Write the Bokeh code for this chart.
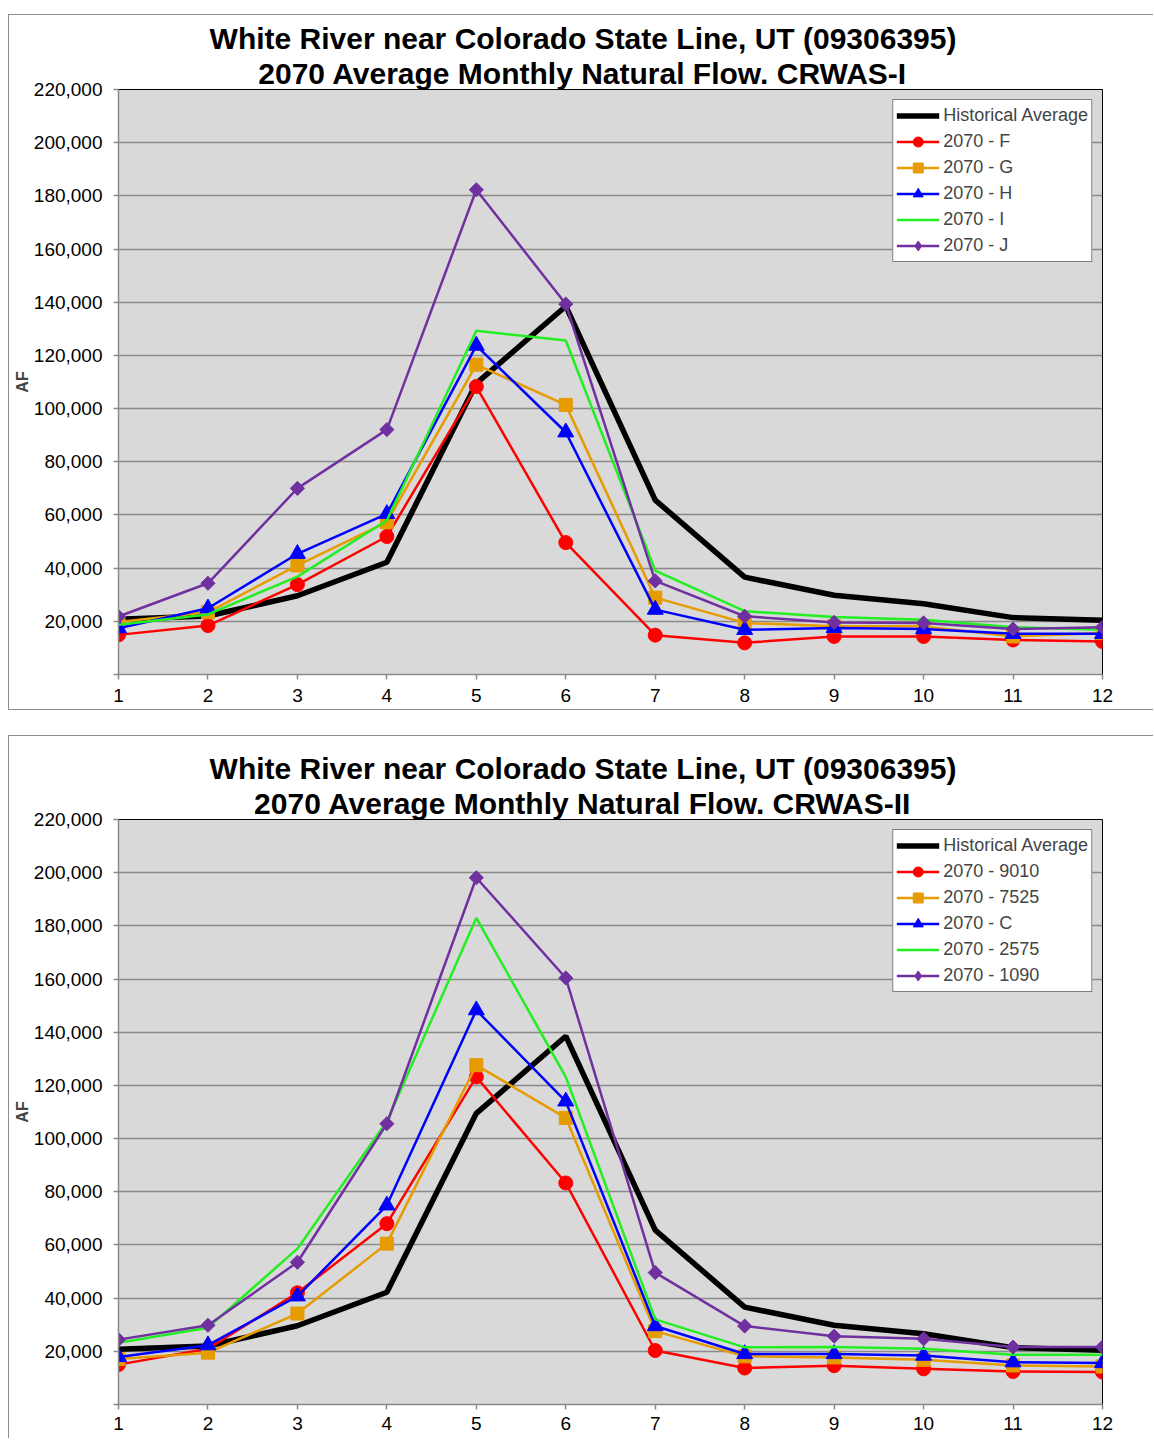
from bokeh.plotting import figure
from bokeh.models import (Range1d, FixedTicker, NumeralTickFormatter, Title,
                          Legend, LegendItem, Spacer)
from bokeh.layouts import column, row
from bokeh.embed import file_html
from bokeh.resources import INLINE
import numpy as np

# ---------------- data ----------------
months = [1, 2, 3, 4, 5, 6, 7, 8, 9, 10, 11, 12]
y_ticks = [0, 20000, 40000, 60000, 80000, 100000, 120000, 140000, 160000, 180000, 200000, 220000]

historical = [20800, 22000, 29600, 42200, 109500, 138500, 65600, 36600, 29800, 26600, 21400, 20400]

# CRWAS-I
crwas1_labels = ["2070 - F", "2070 - G", "2070 - H", "2070 - I", "2070 - J"]
f_vals = [14900, 18400, 33800, 51900, 108300, 49600, 14800, 11900, 14300, 14300, 13000, 12400]
g_vals = [19700, 23400, 41000, 57300, 116500, 101400, 28900, 19400, 18100, 18100, 14300, 15600]
h_vals = [17400, 24900, 45400, 60400, 123700, 91100, 24400, 16800, 17500, 17100, 15300, 15300]
i_vals = [18700, 22600, 36800, 57900, 129300, 125600, 39100, 23800, 21600, 20600, 17800, 16800]
j_vals = [21800, 34300, 70000, 92100, 182300, 139300, 35200, 21900, 19600, 19400, 17100, 17800]

# CRWAS-II
crwas2_labels = ["2070 - 9010", "2070 - 7525", "2070 - C", "2070 - 2575", "2070 - 1090"]
v9010 = [15000, 21000, 42000, 68000, 123200, 83300, 20300, 13700, 14600, 13400, 12400, 12200]
v7525 = [17100, 19500, 34200, 60500, 127600, 107800, 27600, 18100, 17700, 16800, 14700, 14300]
v_c = [17900, 22300, 40700, 74900, 148300, 114000, 29500, 19000, 19000, 18400, 15900, 15600]
v2575 = [23200, 28900, 58600, 106400, 183000, 123200, 32000, 21500, 21600, 21000, 18700, 18700]
v1090 = [24400, 29800, 53500, 105600, 198100, 160400, 49600, 29500, 25700, 24700, 21600, 21600]

title_line1 = "White River near Colorado State Line, UT (09306395)"
title1_line2 = "2070 Average Monthly Natural Flow. CRWAS-I"
title2_line2 = "2070 Average Monthly Natural Flow. CRWAS-II"

# ---------------- styles ----------------
FONT = "Liberation Sans"
COLORS = ["#FF0000", "#E69B00", "#0000FF", "#22EE22", "#7030A0"]
# (plot marker, plot size, angle, legend marker)
MARKERS = [("circle", 14, 0.0, "circle"), ("square", 13, 0.0, "square"),
           ("triangle", 16, 0.0, "triangle"), (None, 0, 0.0, None),
           ("square", 10, np.pi / 4, "diamond")]
GRID = "#8a8a8a"
TITLE_PX = 30
FRAME_LEFT = 118
CENTER_X = 582

# Arial / Liberation Sans Bold advance widths (em units)
_W = {" ": .278, "(": .333, ")": .333, ",": .278, ".": .278, "-": .333,
      "0": .556, "1": .556, "2": .556, "3": .556, "4": .556, "5": .556, "6": .556,
      "7": .556, "8": .556, "9": .556, "A": .722, "C": .722, "F": .611, "I": .278,
      "L": .611, "M": .833, "N": .722, "R": .722, "S": .667, "T": .611, "U": .722,
      "W": .944, "a": .556, "d": .611, "e": .556, "g": .611, "h": .611, "i": .278,
      "l": .278, "n": .611, "o": .611, "r": .389, "t": .333, "u": .611, "v": .556,
      "w": .778, "y": .556}


def title_offset(txt, nudge=0):
    w = sum(_W.get(c, .6) for c in txt) * TITLE_PX
    return CENTER_X - w / 2 - FRAME_LEFT + nudge


def make_chart(line2, labels, series, height, border_top, border_bottom, x_standoff, css):
    p = figure(width=1145, height=height,
               x_range=Range1d(1, 12), y_range=Range1d(0, 220000),
               output_backend="svg", toolbar_location=None,
               min_border_left=109, min_border_right=52,
               min_border_top=border_top, min_border_bottom=border_bottom)
    p.background_fill_color = "#d9d9d9"
    p.border_fill_color = "white"
    p.outline_line_color = "black"
    p.outline_line_width = 1
    p.styles = css

    p.xgrid.visible = False
    p.ygrid.ticker = FixedTicker(ticks=y_ticks)
    p.ygrid.grid_line_color = GRID
    p.ygrid.grid_line_width = 1.5

    p.yaxis.ticker = FixedTicker(ticks=y_ticks)
    p.yaxis.formatter = NumeralTickFormatter(format="0,0")
    p.yaxis.major_label_overrides = {0: ""}
    p.yaxis.axis_label = "AF"
    p.yaxis.axis_label_text_font = FONT
    p.yaxis.axis_label_text_font_style = "bold"
    p.yaxis.axis_label_text_font_size = "16px"
    p.yaxis.axis_label_standoff = 0
    p.yaxis.major_label_standoff = 11

    p.xaxis.ticker = FixedTicker(ticks=months)
    p.xaxis.major_label_overrides = {m: str(m) for m in months}
    p.xaxis.major_label_standoff = x_standoff

    for ax in (p.xaxis, p.yaxis):
        ax.axis_line_color = GRID
        ax.axis_line_width = 1.5
        ax.major_tick_line_color = GRID
        ax.major_tick_line_width = 1.5
        ax.major_tick_in = 0
        ax.major_tick_out = 5
        ax.minor_tick_line_color = None
        ax.major_label_text_font = FONT
        ax.major_label_text_font_size = "19px"
        ax.major_label_text_color = "black"

    items = []
    r_hist = p.line(months, historical, line_color="black", line_width=5.5)
    items.append(LegendItem(label="Historical Average", renderers=[r_hist]))
    for lab, vals, col, (mk, sz, ang, lmk) in zip(labels, series, COLORS, MARKERS):
        rs = [p.line(months, vals, line_color=col, line_width=2.5)]
        if mk is not None:
            p.scatter(months, vals, marker=mk, size=sz, angle=ang,
                      fill_color=col, line_color=col, line_width=1)
            # legend proxy: one point far outside the visible range, so only
            # its legend glyph is seen
            rs.append(p.scatter(x=[-100], y=[-1e7], marker=lmk, size=sz,
                                fill_color=col, line_color=col, line_width=1))
        items.append(LegendItem(label=lab, renderers=rs))

    legend = Legend(items=items, location="top_right")
    legend.margin = 10
    legend.padding = 3
    legend.spacing = 1
    legend.label_height = 25
    legend.glyph_height = 25
    legend.glyph_width = 43
    legend.label_standoff = 4
    legend.label_text_font = FONT
    legend.label_text_font_size = "18px"
    legend.border_line_color = "black"
    legend.border_line_width = 1
    legend.background_fill_color = "white"
    legend.background_fill_alpha = 1.0
    p.add_layout(legend)

    # two-line title, centred over the whole chart (nearest line added first)
    for txt, nudge in ((line2, 2.5), (title_line1, 0.5)):
        p.add_layout(Title(text=txt, align="left", offset=title_offset(txt, nudge),
                           standoff=0, text_font=FONT, text_font_style="bold",
                           text_font_size=f"{TITLE_PX}px", text_color="black"),
                     "above")
    return p


border = "1px solid #8c8c8c"
p1 = make_chart(title1_line2, crwas1_labels, [f_vals, g_vals, h_vals, i_vals, j_vals],
                height=696, border_top=74, border_bottom=37, x_standoff=9,
                css={"border-top": border, "border-left": border, "border-bottom": border})
p2 = make_chart(title2_line2, crwas2_labels, [v9010, v7525, v_c, v2575, v1090],
                height=703, border_top=83, border_bottom=35, x_standoff=7,
                css={"border-top": border, "border-left": border})

charts = column(Spacer(width=1146, height=14), p1, Spacer(width=1146, height=25), p2)
layout = row(Spacer(width=8, height=1441), charts)

open("out.html", "w").write(file_html(layout, INLINE))
